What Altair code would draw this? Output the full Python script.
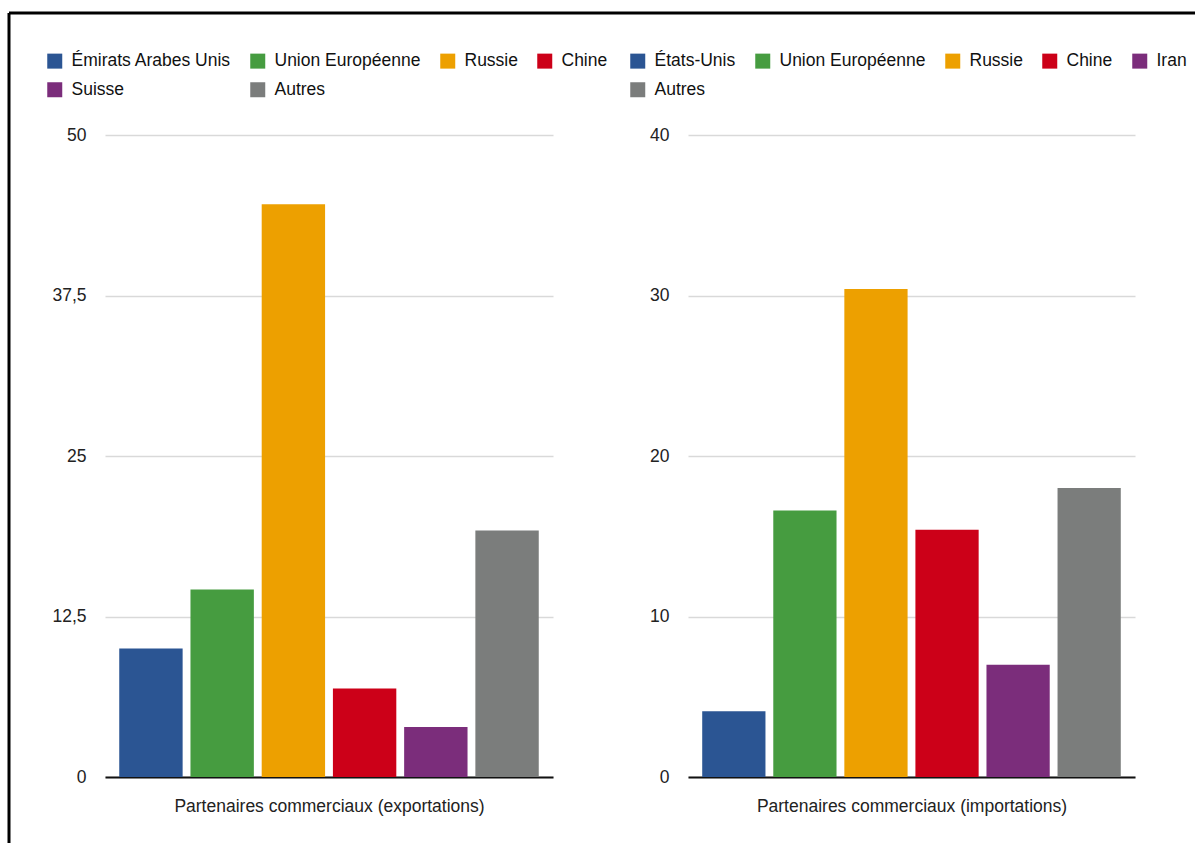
import altair as alt
import pandas as pd

FONT = "Liberation Sans, Arial"
FS = 17.5

exp_partners = ["Émirats Arabes Unis", "Union Européenne", "Russie", "Chine", "Suisse", "Autres"]
exp_values = [10.0, 14.6, 44.6, 6.9, 3.9, 19.2]
imp_partners = ["États-Unis", "Union Européenne", "Russie", "Chine", "Iran", "Autres"]
imp_values = [4.1, 16.6, 30.4, 15.4, 7.0, 18.0]
colors = ["#2b5593", "#469c40", "#eda000", "#cc0018", "#7b2d7b", "#7b7d7c"]
exp_ticks = [0, 12.5, 25, 37.5, 50]
imp_ticks = [0, 10, 20, 30, 40]

exp_df = pd.DataFrame({"partenaire": exp_partners, "valeur": exp_values})
imp_df = pd.DataFrame({"partenaire": imp_partners, "valeur": imp_values})


def panel(df, partners, ticks, title, width, columns, frame=False):
    bars = alt.Chart(df).mark_bar().encode(
        x=alt.X("partenaire:N", sort=partners,
                scale=alt.Scale(paddingInner=0.11, paddingOuter=0.2),
                axis=alt.Axis(title=title, labels=False, ticks=False, domain=True,
                              domainColor="#111111", domainWidth=2,
                              titleFont=FONT, titleFontSize=FS, titleFontWeight="normal",
                              titleColor="#222222", titlePadding=20)),
        y=alt.Y("valeur:Q", scale=alt.Scale(domain=[ticks[0], ticks[-1]], nice=False),
                axis=alt.Axis(title=None, values=ticks, format=".1~f",
                              labelExpr="replace(datum.label, '.', ',')",
                              domain=False, ticks=False, grid=True,
                              gridColor="#d9d9d9", gridWidth=1.5,
                              labelFont=FONT, labelFontSize=FS, labelColor="#222222",
                              labelPadding=19)),
        color=alt.Color("partenaire:N",
                        scale=alt.Scale(domain=partners, range=colors),
                        legend=alt.Legend(title=None, orient="none", legendX=-59, legendY=-83,
                                          direction="horizontal",
                                          columns=columns, symbolType="square",
                                          symbolSize=225, symbolStrokeWidth=0,
                                          symbolOpacity=1, labelLimit=400,
                                          labelFont=FONT, labelFontSize=FS,
                                          labelColor="#111111", labelOffset=8,
                                          columnPadding=18, rowPadding=10, padding=0)),
    ).properties(width=width, height=642)
    if not frame:
        return bars
    one = pd.DataFrame({"f": [0]})
    top = alt.Chart(one).mark_rule(color="#000000", strokeWidth=3).encode(
        x=alt.value(-96), x2=alt.value(1090), y=alt.value(-122))
    left = alt.Chart(one).mark_rule(color="#000000", strokeWidth=3).encode(
        x=alt.value(-96), y=alt.value(-122), y2=alt.value(708))
    return alt.layer(bars, top, left)


left_panel = panel(exp_df, exp_partners, exp_ticks,
                   "Partenaires commerciaux (exportations)", 448, 4, frame=True)
right_panel = panel(imp_df, imp_partners, imp_ticks,
                    "Partenaires commerciaux (importations)", 447, 5)

chart = alt.hconcat(left_panel, right_panel, spacing=135, bounds="flush").resolve_scale(
    x="independent", y="independent", color="independent"
).resolve_legend(color="independent").properties(
    padding={"left": 7, "top": 11, "right": 0, "bottom": 0},
    background="white",
).configure_view(stroke=None)

chart.save("out.html", embed_options={"renderer": "svg", "actions": False})
